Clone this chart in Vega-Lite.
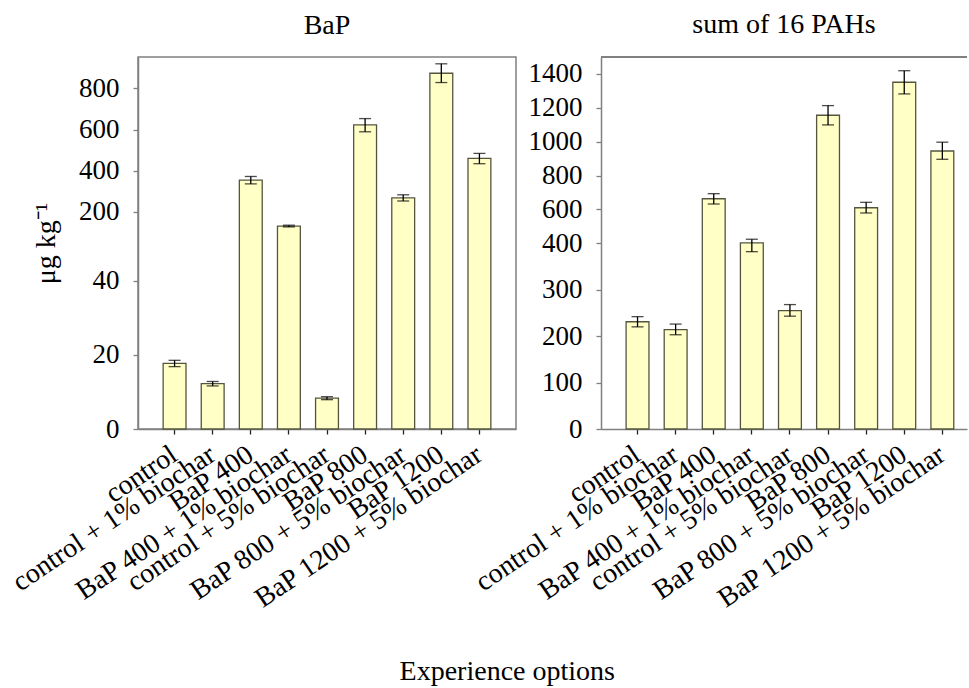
{
  "$schema": "https://vega.github.io/schema/vega-lite/v6.json",
  "padding": {"left": 6, "top": 11, "right": 0, "bottom": 0},
  "bounds": "flush",
  "spacing": 85,
  "title": {"text": "Experience options", "orient": "bottom", "anchor": "middle", "offset": 44, "dx": 20, "fontSize": 28, "font": "Liberation Serif", "fontWeight": "normal", "color": "#000"},
  "config": {
    "font": "Liberation Serif",
    "view": {"stroke": "#808080", "strokeWidth": 1.5},
    "axis": {"labelFont": "Liberation Serif", "titleFont": "Liberation Serif", "labelColor": "#000", "titleColor": "#000", "grid": false, "domainColor": "#808080", "domainWidth": 1.5, "tickColor": "#808080", "tickWidth": 1.3, "tickSize": 5, "labelFontSize": 27, "titleFontSize": 28, "titleFontWeight": "normal"},
    "title": {"font": "Liberation Serif", "fontSize": 28, "fontWeight": "normal", "color": "#000"}
  },
  "datasets": {
    "pah": [
      {"panel": "BaP", "option": "control", "value": 17.7, "lo": 16.8, "hi": 18.5},
      {"panel": "BaP", "option": "control + 1% biochar", "value": 12.2, "lo": 11.6, "hi": 12.8},
      {"panel": "BaP", "option": "BaP 400", "value": 354, "lo": 336, "hi": 372},
      {"panel": "BaP", "option": "BaP 400 + 1% biochar", "value": 167, "lo": 165, "hi": 169},
      {"panel": "BaP", "option": "control + 5% biochar", "value": 8.3, "lo": 7.9, "hi": 8.7},
      {"panel": "BaP", "option": "BaP 800", "value": 622, "lo": 589, "hi": 653},
      {"panel": "BaP", "option": "BaP 800 + 5% biochar", "value": 268, "lo": 253, "hi": 283},
      {"panel": "BaP", "option": "BaP 1200", "value": 873, "lo": 828, "hi": 919},
      {"panel": "BaP", "option": "BaP 1200 + 5% biochar", "value": 460, "lo": 434, "hi": 484},
      {"panel": "sum", "option": "control", "value": 231, "lo": 220, "hi": 242},
      {"panel": "sum", "option": "control + 1% biochar", "value": 214, "lo": 203, "hi": 226},
      {"panel": "sum", "option": "BaP 400", "value": 663, "lo": 632, "hi": 693},
      {"panel": "sum", "option": "BaP 400 + 1% biochar", "value": 402, "lo": 382, "hi": 424},
      {"panel": "sum", "option": "control + 5% biochar", "value": 255, "lo": 243, "hi": 268},
      {"panel": "sum", "option": "BaP 800", "value": 1156, "lo": 1099, "hi": 1213},
      {"panel": "sum", "option": "BaP 800 + 5% biochar", "value": 610, "lo": 579, "hi": 642},
      {"panel": "sum", "option": "BaP 1200", "value": 1351, "lo": 1282, "hi": 1419},
      {"panel": "sum", "option": "BaP 1200 + 5% biochar", "value": 945, "lo": 896, "hi": 997}
    ]
  },
  "hconcat": [
    {
      "width": 378,
      "height": 372,
      "data": {"name": "pah"},
      "title": {"text": "BaP", "offset": 17},
      "transform": [{"filter": {"field": "panel", "equal": "BaP"}}],
      "encoding": {
        "x": {"field": "option", "type": "nominal", "sort": null,
          "scale": {"paddingInner": 0.4, "paddingOuter": 0.66},
          "axis": {"title": null, "labelAngle": -34, "labelAlign": "right", "labelBaseline": "middle", "labelPadding": 18, "labelFontSize": 28, "tickColor": "#222", "labelLimit": 400}}
      },
      "layer": [
        {
          "mark": {"type": "bar", "fill": "#ffffc6", "stroke": "#55553f", "strokeWidth": 1.3},
          "encoding": {
            "y": {"field": "value", "type": "quantitative",
              "scale": {"domain": [0, 40, 200, 952], "range": [372, 223.5, 154.9, 0], "nice": false, "zero": false},
              "axis": {"title": "μg kg⁻¹", "values": [0, 20, 40, 200, 400, 600, 800], "format": "d", "labelPadding": 14, "titlePadding": 18}}
          }
        },
        {
          "mark": {"type": "rule", "color": "#000", "strokeWidth": 1.3},
          "encoding": {"y": {"field": "lo", "type": "quantitative"}, "y2": {"field": "hi"}}
        },
        {
          "mark": {"type": "tick", "color": "#000", "size": 12, "thickness": 1.3},
          "encoding": {"y": {"field": "lo", "type": "quantitative"}}
        },
        {
          "mark": {"type": "tick", "color": "#000", "size": 12, "thickness": 1.3},
          "encoding": {"y": {"field": "hi", "type": "quantitative"}}
        }
      ]
    },
    {
      "width": 366,
      "height": 372,
      "data": {"name": "pah"},
      "view": {"stroke": null},
      "title": {"text": "sum of 16 PAHs", "offset": 17},
      "transform": [{"filter": {"field": "panel", "equal": "sum"}}],
      "layer": [
        {
          "mark": {"type": "rule", "color": "#808080", "strokeWidth": 1.5},
          "encoding": {"y": {"datum": 1500, "type": "quantitative"}}
        },
        {
          "encoding": {
            "x": {"field": "option", "type": "nominal", "sort": null,
              "scale": {"paddingInner": 0.4, "paddingOuter": 0.503, "align": 0.655},
              "axis": {"title": null, "labelAngle": -34, "labelAlign": "right", "labelBaseline": "middle", "labelPadding": 18, "labelFontSize": 28, "tickColor": "#222", "labelLimit": 400}}
          },
          "layer": [
            {
              "mark": {"type": "bar", "fill": "#ffffc6", "stroke": "#55553f", "strokeWidth": 1.3},
              "encoding": {
                "y": {"field": "value", "type": "quantitative",
                  "scale": {"domain": [0, 400, 1500], "range": [372, 186.3, 0], "nice": false, "zero": false},
                  "axis": {"title": null, "values": [0, 100, 200, 300, 400, 600, 800, 1000, 1200, 1400], "format": "d", "labelPadding": 14}}
              }
            },
            {
              "mark": {"type": "rule", "color": "#000", "strokeWidth": 1.3},
              "encoding": {"y": {"field": "lo", "type": "quantitative"}, "y2": {"field": "hi"}}
            },
            {
              "mark": {"type": "tick", "color": "#000", "size": 12, "thickness": 1.3},
              "encoding": {"y": {"field": "lo", "type": "quantitative"}}
            },
            {
              "mark": {"type": "tick", "color": "#000", "size": 12, "thickness": 1.3},
              "encoding": {"y": {"field": "hi", "type": "quantitative"}}
            }
          ]
        }
      ]
    }
  ]
}
